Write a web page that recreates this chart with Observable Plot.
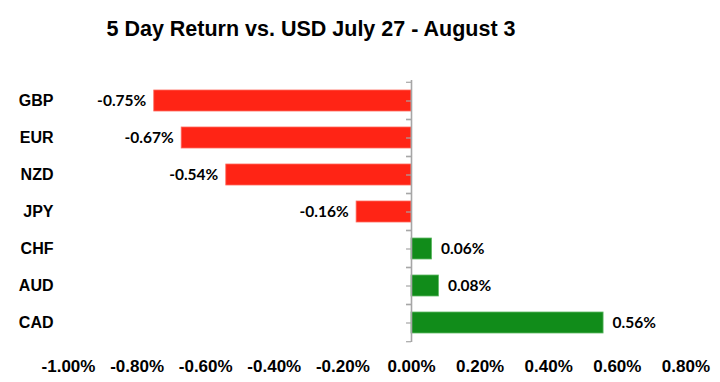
<!DOCTYPE html>
<html>
<head>
<meta charset="utf-8">
<script src="https://cdn.jsdelivr.net/npm/d3@7"></script>
<script src="https://cdn.jsdelivr.net/npm/@observablehq/plot@0.6"></script>
<style>
  html, body { margin: 0; padding: 0; background: #fff; }
  #title { width: 622px; height: 60px; box-sizing: border-box; padding-top: 17px; text-align: center;
    font: bold 21.5px "Liberation Sans", Arial, sans-serif; color: #000; line-height: 1.15; }
</style>
</head>
<body>
<div id="title">5 Day Return vs. USD July 27 - August 3</div>
<div id="chart"></div>
<script>
const currencies = ["GBP", "EUR", "NZD", "JPY", "CHF", "AUD", "CAD"];
const returns = [-0.75, -0.67, -0.54, -0.16, 0.06, 0.08, 0.56];
const xTicks = [-1.0, -0.8, -0.6, -0.4, -0.2, 0.0, 0.2, 0.4, 0.6, 0.8];

const data = currencies.map((c, i) => ({currency: c, value: returns[i]}));
const fmt = (d) => d.toFixed(2) + "%";

const H = 322, MT = 20, MB = 40;
const step = (H - MT - MB) / currencies.length;

const chart = Plot.plot({
  width: 720,
  height: H,
  marginTop: MT,
  marginBottom: MB,
  marginLeft: 68,
  marginRight: 34.6,
  style: {background: "#fff"},
  x: {domain: [-1, 0.8]},
  y: {domain: currencies, paddingInner: 0.44, paddingOuter: 0.22},
  marks: [
    Plot.barX(data, {
      y: "currency", x: "value",
      fill: (d) => d.value < 0 ? "#ff2415" : "#118c1a",
      stroke: (d) => d.value < 0 ? "#ff6a5e" : "#5fb865",
      strokeWidth: 0.8
    }),
    Plot.ruleX([0], {stroke: "#a6a6a6", strokeWidth: 1.6}),
    ...[-step / 2, 0, step / 2].map((off) =>
      Plot.ruleY(currencies, {y: (d) => d, x1: -0.0145, x2: 0, dy: off, stroke: "#a6a6a6", strokeWidth: 1.2})
    ),
    Plot.text(data, {
      y: "currency", x: "value",
      text: (d) => fmt(d.value),
      textAnchor: "end",
      filter: (d) => d.value < 0,
      dx: -8,
      fontSize: 15.5, fontWeight: "bold",
      fontFamily: "Lato, 'Open Sans', sans-serif",
      fill: "#000"
    }),
    Plot.text(data, {
      y: "currency", x: "value",
      text: (d) => fmt(d.value),
      textAnchor: "start",
      filter: (d) => d.value >= 0,
      dx: 9,
      fontSize: 15.5, fontWeight: "bold",
      fontFamily: "Lato, 'Open Sans', sans-serif",
      fill: "#000"
    }),
    Plot.axisY({
      tickSize: 0, tickPadding: 15, label: null,
      fontSize: 16, fontWeight: "bold",
      fontFamily: "'Liberation Sans', Arial, sans-serif", fill: "#000"
    }),
    Plot.axisX({
      ticks: xTicks, tickFormat: fmt, tickSize: 0, tickPadding: 17, label: null,
      fontSize: 17, fontWeight: "bold",
      fontFamily: "'Liberation Sans', Arial, sans-serif", fill: "#000"
    })
  ]
});
document.getElementById("chart").appendChild(chart);
</script>
</body>
</html>
